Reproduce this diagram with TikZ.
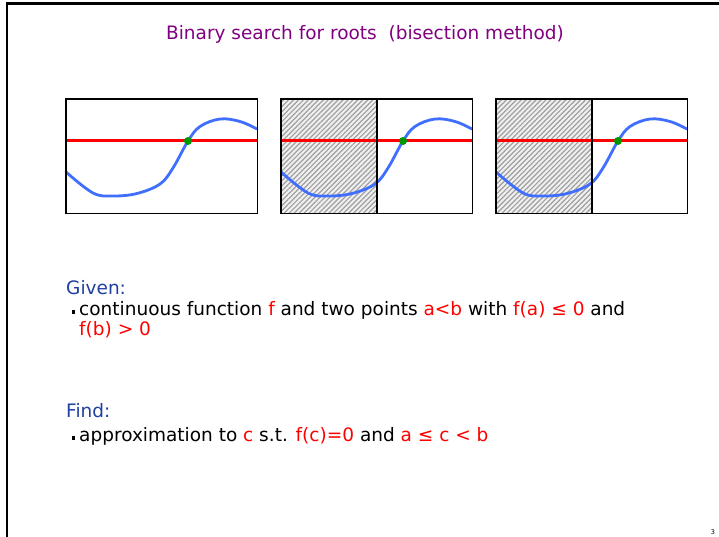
\documentclass[tikz,border=0pt]{standalone}
\usepackage{fontspec}
\setmainfont{DejaVu Sans}
\usepackage{xcolor}
\usetikzlibrary{positioning,patterns.meta}

\definecolor{titlepurple}{RGB}{128,0,128}
\definecolor{headblue}{RGB}{32,64,160}
\definecolor{curveblue}{RGB}{64,110,255}
\definecolor{rootgreen}{RGB}{0,150,0}
\newcommand{\hl}[1]{\textcolor{red}{#1}}
\newcommand{\itembox}{\llap{\raisebox{1.5pt}{\rule{3.5pt}{3.5pt}}\hspace{4pt}}}

\begin{document}
\begin{tikzpicture}[x=1pt, y=-1pt,
  panel/.style={minimum width=191pt, minimum height=114pt, inner sep=0pt, anchor=north west},
  frame/.style={draw, line width=1.3pt},
  hatch/.style={preaction={fill=gray!12}, pattern={Lines[angle=45,distance=3.5pt,line width=1.2pt]}, pattern color=gray!75},
  axis/.style={red, line width=3pt},
  curve/.style={curveblue, line width=2.8pt, line cap=round},
  head/.style={text=headblue, font=\fontsize{18.5}{22}\selectfont, anchor=base west, inner sep=0pt},
  body/.style={font=\fontsize{18.5}{22}\selectfont, align=left, anchor=base west, inner sep=0pt}
]
\useasboundingbox (0,0) rectangle (719,537);
\draw[line width=2.5pt] (7,537) -- (7,3.5) -- (719,3.5);

\node[text=titlepurple, font=\fontsize{18.5}{22}\selectfont, anchor=base, inner sep=0pt] (title) at (365,40) {Binary search for roots\ \ (bisection method)};

\node[panel] (p1) at (66,99) {};
\node[panel] (p2) at (281,99) {};
\node[panel] (p3) at (496,99) {};

\fill[hatch] (p2.north west) rectangle (p2.south);
\fill[hatch] (p3.north west) rectangle (p3.south);

\foreach \p in {p1,p2,p3} {
  \begin{scope}[shift={(\p.north west)}]
    \draw[axis] (0,42) -- (191,42);
    \draw[curve] plot[smooth, tension=0.6] coordinates {(0,73) (27,94) (47,97) (71,94.5) (94,85) (107,69) (122,42) (134,27.5) (154,20) (174,22.5) (191,30)};
    \fill[rootgreen] (122,42) circle (4pt);
  \end{scope}
}

\draw[line width=1.6pt] (p2.north) -- (p2.south);
\draw[line width=1.6pt] (p3.north) -- (p3.south);
\foreach \p in {p1,p2,p3}
  \draw[frame] (\p.north west) rectangle (\p.south east);

\node[head] (given) at (66,294) {Given:};
\node[body] (givenitem) at (79,315) {\itembox continuous function \hl{f} and two points \hl{a<b} with \hl{f(a) ≤ 0} and};
\node[body] (givenrest) at (79,335) {\hl{f(b) > 0}};

\node[head] (find) at (66,417) {Find:};
\node[body] (finditem) at (79,441) {\itembox approximation to \hl{c} s.t. \hl{f(c)=0} and \hl{a ≤ c < b}};

\node[font=\fontsize{6.5}{7}\selectfont, anchor=base, inner sep=0pt] (pagenum) at (713,534) {3};
\end{tikzpicture}
\end{document}
